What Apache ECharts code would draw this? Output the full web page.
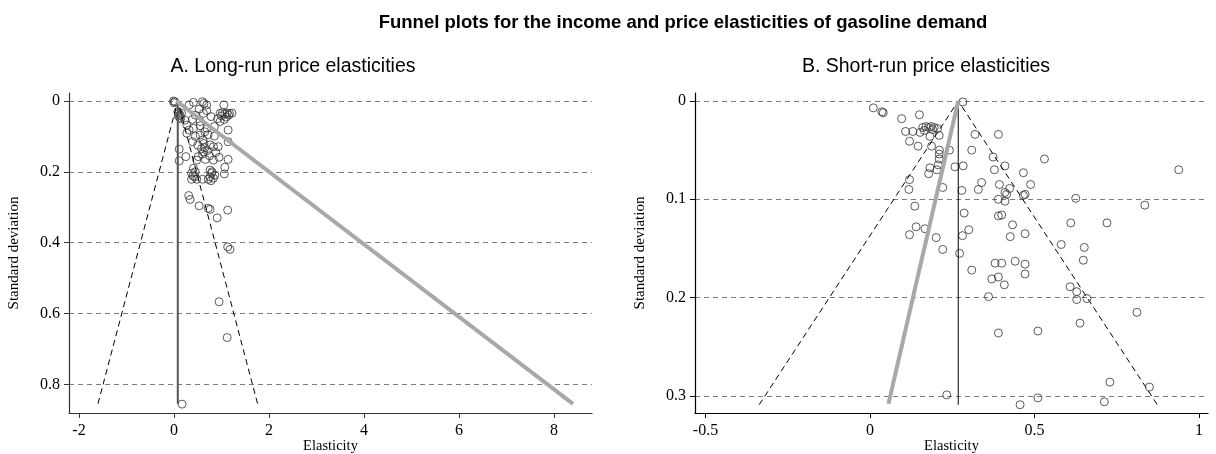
<!DOCTYPE html>
<html>
<head>
<meta charset="utf-8">
<title>Funnel plots</title>
<script src="https://cdn.jsdelivr.net/npm/echarts@6/dist/echarts.min.js"></script>
<style>
  html, body { margin: 0; padding: 0; background: #fff; }
  #chart { width: 1216px; height: 454px; }
</style>
</head>
<body>
<div id="chart"></div>
<script>
// A. long-run price elasticities: [elasticity, standard deviation]
var longRunPoints = [
    [-0.01, 0.000], [0.00, 0.005], [0.02, 0.002], [0.60, 0.002], [0.63, 0.007], [0.41, 0.004],
    [0.32, 0.011], [0.69, 0.011], [1.05, 0.011], [0.53, 0.023], [0.69, 0.027],
    [0.08, 0.030], [0.10, 0.035], [0.13, 0.040], [0.12, 0.046], [0.16, 0.035], [0.09, 0.042], [0.14, 0.050],
    [0.97, 0.035], [1.02, 0.033], [1.07, 0.036], [1.12, 0.034], [1.17, 0.035], [1.22, 0.034],
    [1.00, 0.042], [1.10, 0.045], [1.15, 0.040], [0.92, 0.050], [1.06, 0.052],
    [0.78, 0.044], [0.23, 0.054], [0.39, 0.052], [0.55, 0.058], [0.97, 0.058], [0.45, 0.040], [0.62, 0.035],
    [1.14, 0.082], [0.27, 0.068], [0.41, 0.077], [0.69, 0.077], [0.65, 0.087], [0.55, 0.070], [0.85, 0.072], [0.32, 0.082],
    [0.27, 0.091], [0.55, 0.096], [0.85, 0.099], [0.45, 0.100], [0.72, 0.095],
    [0.39, 0.115], [0.61, 0.110], [0.63, 0.120], [0.65, 0.132], [0.62, 0.144], [0.76, 0.124], [0.83, 0.129],
    [0.93, 0.129], [1.14, 0.115], [0.50, 0.125], [0.58, 0.135], [0.70, 0.140], [0.88, 0.145],
    [0.11, 0.136], [0.25, 0.157], [0.11, 0.169], [0.48, 0.167], [0.51, 0.157], [0.66, 0.165], [0.83, 0.167],
    [0.95, 0.159], [1.14, 0.165], [0.60, 0.150], [0.75, 0.155],
    [1.07, 0.187], [1.06, 0.206],
    [0.41, 0.190], [0.37, 0.204], [0.44, 0.214], [0.37, 0.221], [0.48, 0.221], [0.45, 0.200], [0.40, 0.212],
    [0.76, 0.195], [0.79, 0.204], [0.76, 0.214], [0.83, 0.218], [0.72, 0.221], [0.86, 0.209], [0.80, 0.200], [0.78, 0.225],
    [0.60, 0.221],
    [0.31, 0.267], [0.34, 0.278], [0.53, 0.296], [0.72, 0.303], [0.76, 0.306], [1.13, 0.308], [0.91, 0.330],
    [1.13, 0.412], [1.18, 0.419], [0.95, 0.567], [1.12, 0.668], [0.17, 0.856]
];
var longRunFunnel = [[-1.60, 0.855], [0.08, 0], [1.76, 0.855]];
var longRunMean = [[0.08, 0], [0.08, 0.855]];
var longRunFit = [[0.05, 0], [8.40, 0.855]];
var longRunXTicks = [-2, 0, 2, 4, 6, 8];
var longRunYTicks = [0, 0.2, 0.4, 0.6, 0.8];

// B. short-run price elasticities
var shortRunPoints = [
    [0.010, 0.007], [0.036, 0.011], [0.040, 0.012], [0.096, 0.018], [0.150, 0.014],
    [0.160, 0.027], [0.170, 0.026], [0.178, 0.027], [0.186, 0.026], [0.195, 0.027], [0.205, 0.028],
    [0.165, 0.030], [0.190, 0.029], [0.108, 0.031], [0.130, 0.031], [0.152, 0.032], [0.182, 0.036],
    [0.210, 0.035], [0.120, 0.041], [0.146, 0.046], [0.187, 0.046], [0.211, 0.050], [0.210, 0.054],
    [0.210, 0.059], [0.207, 0.065], [0.241, 0.050], [0.182, 0.068], [0.178, 0.074], [0.203, 0.070],
    [0.258, 0.067], [0.283, 0.066], [0.120, 0.080], [0.118, 0.090], [0.136, 0.107], [0.140, 0.128],
    [0.120, 0.136], [0.167, 0.130], [0.201, 0.139], [0.221, 0.151], [0.221, 0.088], [0.279, 0.091],
    [0.286, 0.114], [0.300, 0.131], [0.281, 0.137], [0.272, 0.155], [0.282, 0.001], [0.319, 0.034],
    [0.390, 0.034], [0.309, 0.050], [0.374, 0.057], [0.530, 0.059], [0.410, 0.066], [0.378, 0.070],
    [0.466, 0.073], [0.938, 0.070], [0.339, 0.083], [0.329, 0.090], [0.393, 0.085], [0.424, 0.089],
    [0.488, 0.085], [0.410, 0.093], [0.415, 0.095], [0.471, 0.095], [0.466, 0.096], [0.390, 0.100],
    [0.410, 0.102], [0.625, 0.099], [0.835, 0.106], [0.390, 0.117], [0.400, 0.116], [0.433, 0.126],
    [0.610, 0.124], [0.720, 0.124], [0.426, 0.138], [0.471, 0.135], [0.581, 0.146], [0.651, 0.149],
    [0.648, 0.162], [0.380, 0.165], [0.400, 0.165], [0.441, 0.163], [0.471, 0.166], [0.309, 0.172],
    [0.370, 0.181], [0.390, 0.179], [0.408, 0.187], [0.471, 0.176], [0.360, 0.199], [0.608, 0.189],
    [0.628, 0.194], [0.628, 0.202], [0.659, 0.201], [0.811, 0.215], [0.638, 0.226], [0.390, 0.236],
    [0.510, 0.234], [0.729, 0.286], [0.849, 0.291], [0.233, 0.299], [0.510, 0.302], [0.456, 0.309],
    [0.712, 0.306]
];
var shortRunFunnel = [[-0.337, 0.309], [0.268, 0], [0.873, 0.309]];
var shortRunMean = [[0.268, 0], [0.268, 0.309]];
var shortRunFit = [[0.268, 0], [0.056, 0.308]];
var shortRunXTicks = [-0.5, 0, 0.5, 1];
var shortRunYTicks = [0, 0.1, 0.2, 0.3];

var serifFont = '"Liberation Serif", "DejaVu Serif", serif';
var sansFont = '"Liberation Sans", Arial, sans-serif';

function makeXAxis(grid, min, max, ticks, color) {
    return {
        type: 'value', gridIndex: grid, min: min, max: max,
        name: 'Elasticity', nameLocation: 'middle', nameGap: 26, nameMoveOverlap: false,
        nameTextStyle: { fontFamily: serifFont, fontSize: 14.5, color: '#000' },
        axisLine: { show: true, onZero: false, lineStyle: { color: color, width: 1.2 } },
        axisTick: { show: true, length: 5, customValues: ticks, lineStyle: { color: color } },
        axisLabel: { customValues: ticks, margin: 10, fontFamily: serifFont, fontSize: 16, color: '#000' },
        splitLine: { show: false }
    };
}

function makeYAxis(grid, min, max, ticks, color) {
    return {
        type: 'value', gridIndex: grid, min: min, max: max, inverse: true,
        name: 'Standard deviation', nameLocation: 'middle', nameGap: 47, nameMoveOverlap: false,
        nameTextStyle: { fontFamily: serifFont, fontSize: 15, color: '#000' },
        axisLine: { show: true, onZero: false, lineStyle: { color: color, width: 1.2 } },
        axisTick: { show: true, length: 5, customValues: ticks, lineStyle: { color: color } },
        axisLabel: { customValues: ticks, margin: 9, fontFamily: serifFont, fontSize: 16, color: '#000' },
        splitLine: { show: true, lineStyle: { color: '#7a7a7a', type: [5, 4], width: 1 } }
    };
}

function scatterSeries(idx, points) {
    return {
        type: 'scatter', xAxisIndex: idx, yAxisIndex: idx, data: points,
        symbol: 'circle', symbolSize: 8,
        itemStyle: { color: 'rgba(0,0,0,0)', borderColor: '#333', borderWidth: 1 },
        silent: true, z: 2
    };
}

function lineSeries(idx, points, style, z) {
    return {
        type: 'line', xAxisIndex: idx, yAxisIndex: idx, data: points,
        symbol: 'none', lineStyle: style, silent: true, z: z, animation: false
    };
}

var chart = echarts.init(document.getElementById('chart'));
var option = {
    backgroundColor: '#fff',
    animation: false,
    title: [
        { text: 'Funnel plots for the income and price elasticities of gasoline demand',
          left: 678, top: 8, textAlign: 'center',
          textStyle: { fontFamily: sansFont, fontSize: 18.5, fontWeight: 'bold', color: '#000' } },
        { text: 'A. Long-run price elasticities', left: 288, top: 52, textAlign: 'center',
          textStyle: { fontFamily: sansFont, fontSize: 19.5, fontWeight: 'normal', color: '#000' } },
        { text: 'B. Short-run price elasticities', left: 921, top: 52, textAlign: 'center',
          textStyle: { fontFamily: sansFont, fontSize: 19.5, fontWeight: 'normal', color: '#000' } }
    ],
    grid: [
        { left: 69, top: 93, width: 523, height: 320, containLabel: false, outerBoundsMode: 'none' },
        { left: 695, top: 93, width: 513, height: 320, containLabel: false, outerBoundsMode: 'none' }
    ],
    xAxis: [
        makeXAxis(0, -2.21, 8.8, longRunXTicks, '#333'),
        makeXAxis(1, -0.532, 1.027, shortRunXTicks, '#000')
    ],
    yAxis: [
        makeYAxis(0, -0.0226, 0.881, longRunYTicks, '#333'),
        makeYAxis(1, -0.0081, 0.3174, shortRunYTicks, '#000')
    ],
    series: [
        scatterSeries(0, longRunPoints),
        lineSeries(0, longRunFunnel, { color: '#000', width: 1, type: [6, 4] }, 3),
        lineSeries(0, longRunMean, { color: '#555', width: 2 }, 3),
        lineSeries(0, longRunFit, { color: '#a8a8a8', width: 4 }, 4),
        scatterSeries(1, shortRunPoints),
        lineSeries(1, shortRunFunnel, { color: '#000', width: 1, type: [6, 4] }, 3),
        lineSeries(1, shortRunMean, { color: '#000', width: 1 }, 3),
        lineSeries(1, shortRunFit, { color: '#a8a8a8', width: 4 }, 4)
    ]
};
chart.setOption(option);
</script>
</body>
</html>
